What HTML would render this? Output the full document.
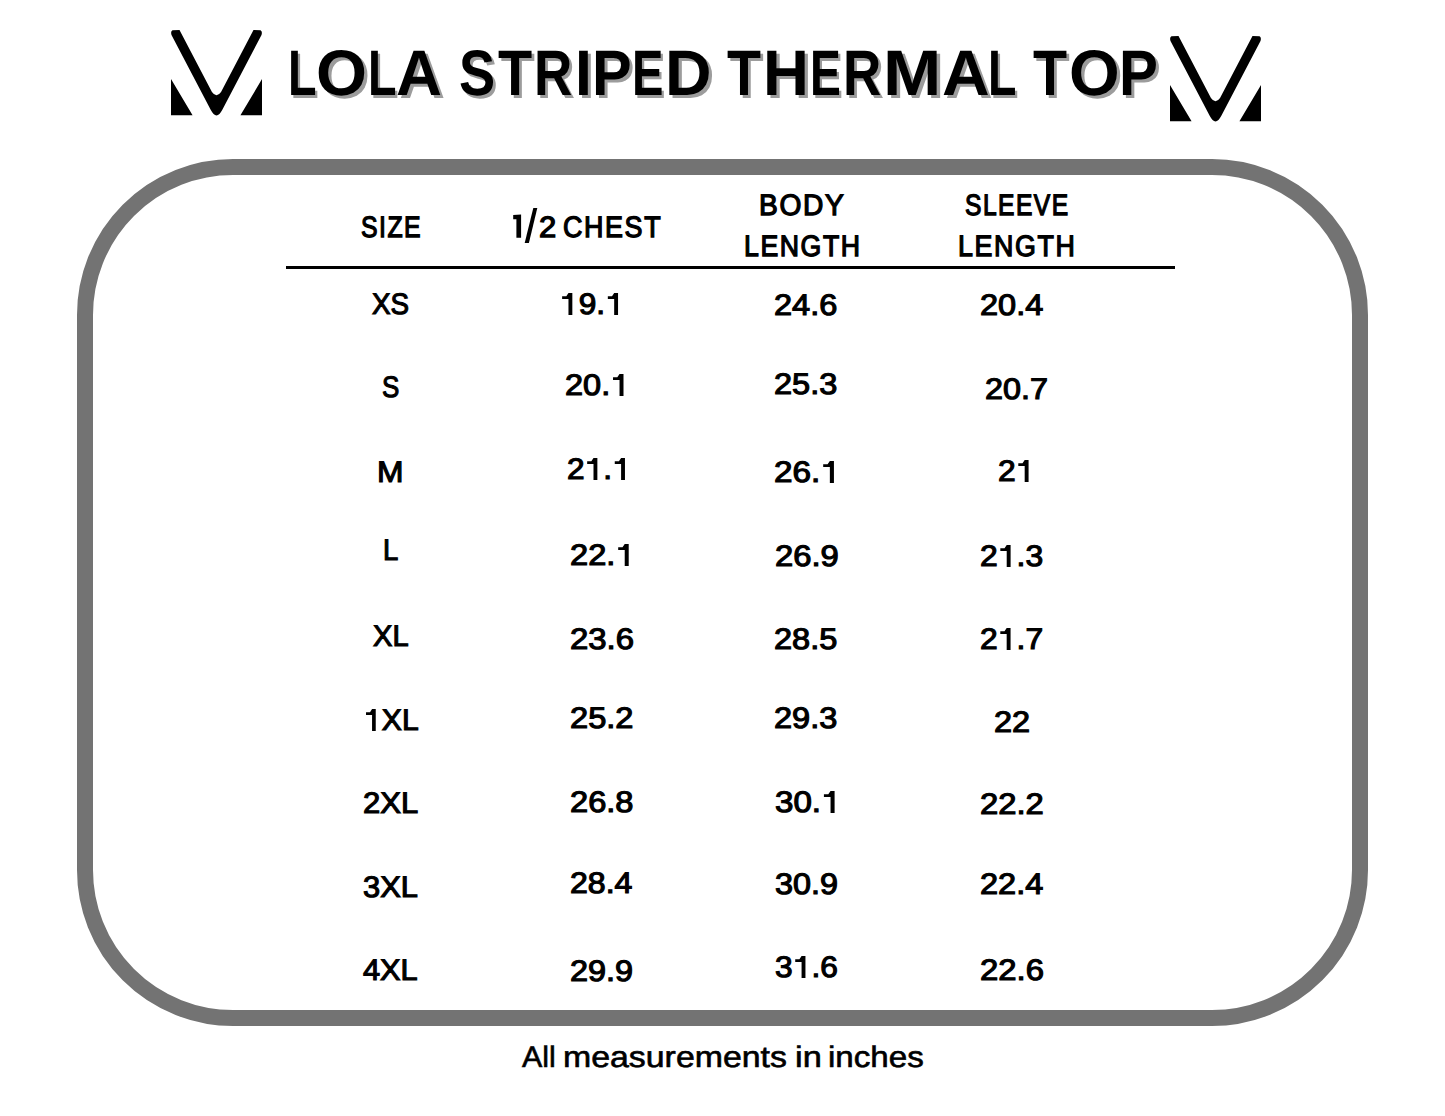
<!DOCTYPE html>
<html><head><meta charset="utf-8"><title>Lola Striped Thermal Top - Size Chart</title>
<style>
html,body{margin:0;padding:0;background:#fff;overflow:hidden;}
body{width:1445px;height:1116px;position:relative;overflow:hidden;font-family:"Liberation Sans",sans-serif;color:#000;text-rendering:geometricPrecision;}
.box{position:absolute;left:76.75px;top:158.9px;width:1291.1px;height:866.7px;box-sizing:border-box;border:16px solid #737373;border-radius:156px;}
.rule{position:absolute;left:286px;top:266px;width:889px;height:3px;background:#000;}
.h,.d,.ti,.f{position:absolute;white-space:nowrap;line-height:1;transform-origin:0 0;}
.h{font-weight:400;-webkit-text-stroke:0.0442em #000;letter-spacing:0.06em;}
.d{font-weight:400;-webkit-text-stroke:0.0386em #000;letter-spacing:0em;}
.ti{font-weight:700;text-shadow:3.2px 3px 0 #9c9c9c;}
.f{font-weight:400;-webkit-text-stroke:0.0203em #000;letter-spacing:0em;}
svg.logo{position:absolute;overflow:visible;}
</style></head>
<body>
<svg class="logo" style="left:171.1px;top:29.5px" width="91" height="86" viewBox="0 0 92 86" preserveAspectRatio="none">
<path d="M1.5,0.2 L8.6,0 L41.4,61.9 Q46,68.4 50.6,61.9 L83.4,0 L90.5,0.2 Q92.6,1.6 91.5,4.9 L51.9,79.8 Q46,91 40.1,79.8 L0.5,4.9 Q-0.6,1.6 1.5,0.2 Z" fill="#000"/>
<path d="M0,49.1 L0,85.3 L21.8,85.3 Z M92,49.1 L92,85.3 L70.2,85.3 Z" fill="#000"/>
</svg>
<svg class="logo" style="left:1169.8px;top:36px" width="91" height="86" viewBox="0 0 92 86" preserveAspectRatio="none">
<path d="M1.5,0.2 L8.6,0 L41.4,61.9 Q46,68.4 50.6,61.9 L83.4,0 L90.5,0.2 Q92.6,1.6 91.5,4.9 L51.9,79.8 Q46,91 40.1,79.8 L0.5,4.9 Q-0.6,1.6 1.5,0.2 Z" fill="#000"/>
<path d="M0,49.1 L0,85.3 L21.8,85.3 Z M92,49.1 L92,85.3 L70.2,85.3 Z" fill="#000"/>
</svg>
<div class="box"></div>
<div class="rule"></div>
<svg style="position:absolute;left:0;top:0;overflow:visible" width="1" height="1"><polygon points="533.3,208 537.3,208 528.9,243.1 524.7,243.1" fill="#000"/><polygon points="513.2,215 521.1,214.6 521.1,237.7 516.4,237.7 516.4,219.2 513.2,219.2" fill="#000"/></svg>
<div class="h" style="left:360.50px;top:212.79px;font-size:29.42px;transform:scaleX(0.8440)">SIZE</div>
<div class="h" style="left:538.87px;top:212.74px;font-size:29.42px;transform:scaleX(1.0537)">2</div>
<div class="h" style="left:563.49px;top:212.74px;font-size:29.42px;transform:scaleX(0.9140)">CHEST</div>
<div class="h" style="left:759.21px;top:191.24px;font-size:29.42px;transform:scaleX(0.9579)">BODY</div>
<div class="h" style="left:744.10px;top:232.14px;font-size:29.42px;transform:scaleX(0.9059)">LENGTH</div>
<div class="h" style="left:965.21px;top:191.39px;font-size:29.42px;transform:scaleX(0.8371)">SLEEVE</div>
<div class="h" style="left:958.29px;top:232.24px;font-size:29.42px;transform:scaleX(0.9115)">LENGTH</div>
<div class="d" style="left:372.38px;top:290.11px;font-size:29.78px;transform:scaleX(0.9335)">XS</div>
<div class="d" style="left:381.98px;top:373.11px;font-size:29.78px;transform:scaleX(0.8719)">S</div>
<div class="d" style="left:377.39px;top:458.41px;font-size:29.78px;transform:scaleX(1.0688)">M</div>
<div class="d" style="left:383.45px;top:536.36px;font-size:29.78px;transform:scaleX(0.9234)">L</div>
<div class="d" style="left:373.29px;top:622.41px;font-size:29.78px;transform:scaleX(0.9770)">XL</div>
<div class="d" style="left:363.69px;top:706.06px;font-size:29.78px;transform:scaleX(1.0112)"><svg class="one1" viewBox="0 0 9.5 21.5" preserveAspectRatio="none" style="display:inline-block;width:0.3229em;height:0.7403em;vertical-align:-0.0295em;margin:0 0.19em 0 0.08em;overflow:visible"><polygon points="0,3.2 3.9,3.2 5.9,0 9.5,0 9.5,21.5 5.9,21.5 5.9,5.8 0,5.8" fill="#000"/></svg>XL</div>
<div class="d" style="left:362.87px;top:789.46px;font-size:29.78px;transform:scaleX(1.0422)">2XL</div>
<div class="d" style="left:363.18px;top:872.56px;font-size:29.78px;transform:scaleX(1.0362)">3XL</div>
<div class="d" style="left:363.40px;top:955.91px;font-size:29.78px;transform:scaleX(1.0321)">4XL</div>
<div class="d" style="left:560.37px;top:290.21px;font-size:29.78px;transform:scaleX(1.0629)"><svg class="one1" viewBox="0 0 9.5 21.5" preserveAspectRatio="none" style="display:inline-block;width:0.3229em;height:0.7403em;vertical-align:-0.0295em;margin:0 0.19em 0 0.08em;overflow:visible"><polygon points="0,3.2 3.9,3.2 5.9,0 9.5,0 9.5,21.5 5.9,21.5 5.9,5.8 0,5.8" fill="#000"/></svg>9.<svg class="one1" viewBox="0 0 9.5 21.5" preserveAspectRatio="none" style="display:inline-block;width:0.3229em;height:0.7403em;vertical-align:-0.0295em;margin:0 0.19em 0 0.08em;overflow:visible"><polygon points="0,3.2 3.9,3.2 5.9,0 9.5,0 9.5,21.5 5.9,21.5 5.9,5.8 0,5.8" fill="#000"/></svg></div>
<div class="d" style="left:564.73px;top:370.91px;font-size:29.78px;transform:scaleX(1.0912)">20.<svg class="one1" viewBox="0 0 9.5 21.5" preserveAspectRatio="none" style="display:inline-block;width:0.3229em;height:0.7403em;vertical-align:-0.0295em;margin:0 0.19em 0 0.08em;overflow:visible"><polygon points="0,3.2 3.9,3.2 5.9,0 9.5,0 9.5,21.5 5.9,21.5 5.9,5.8 0,5.8" fill="#000"/></svg></div>
<div class="d" style="left:566.65px;top:455.41px;font-size:29.78px;transform:scaleX(1.0614)">2<svg class="one1" viewBox="0 0 9.5 21.5" preserveAspectRatio="none" style="display:inline-block;width:0.3229em;height:0.7403em;vertical-align:-0.0295em;margin:0 0.19em 0 0.08em;overflow:visible"><polygon points="0,3.2 3.9,3.2 5.9,0 9.5,0 9.5,21.5 5.9,21.5 5.9,5.8 0,5.8" fill="#000"/></svg>.<svg class="one1" viewBox="0 0 9.5 21.5" preserveAspectRatio="none" style="display:inline-block;width:0.3229em;height:0.7403em;vertical-align:-0.0295em;margin:0 0.19em 0 0.08em;overflow:visible"><polygon points="0,3.2 3.9,3.2 5.9,0 9.5,0 9.5,21.5 5.9,21.5 5.9,5.8 0,5.8" fill="#000"/></svg></div>
<div class="d" style="left:569.62px;top:540.86px;font-size:29.78px;transform:scaleX(1.0951)">22.<svg class="one1" viewBox="0 0 9.5 21.5" preserveAspectRatio="none" style="display:inline-block;width:0.3229em;height:0.7403em;vertical-align:-0.0295em;margin:0 0.19em 0 0.08em;overflow:visible"><polygon points="0,3.2 3.9,3.2 5.9,0 9.5,0 9.5,21.5 5.9,21.5 5.9,5.8 0,5.8" fill="#000"/></svg></div>
<div class="d" style="left:569.61px;top:625.21px;font-size:29.78px;transform:scaleX(1.1050)">23.6</div>
<div class="d" style="left:569.72px;top:704.46px;font-size:29.78px;transform:scaleX(1.0961)">25.2</div>
<div class="d" style="left:569.72px;top:787.91px;font-size:29.78px;transform:scaleX(1.0961)">26.8</div>
<div class="d" style="left:569.74px;top:868.61px;font-size:29.78px;transform:scaleX(1.0776)">28.4</div>
<div class="d" style="left:569.73px;top:956.61px;font-size:29.78px;transform:scaleX(1.0890)">29.9</div>
<div class="d" style="left:774.42px;top:290.91px;font-size:29.78px;transform:scaleX(1.0926)">24.6</div>
<div class="d" style="left:774.42px;top:370.41px;font-size:29.78px;transform:scaleX(1.0926)">25.3</div>
<div class="d" style="left:774.40px;top:457.81px;font-size:29.78px;transform:scaleX(1.1179)">26.<svg class="one1" viewBox="0 0 9.5 21.5" preserveAspectRatio="none" style="display:inline-block;width:0.3229em;height:0.7403em;vertical-align:-0.0295em;margin:0 0.19em 0 0.08em;overflow:visible"><polygon points="0,3.2 3.9,3.2 5.9,0 9.5,0 9.5,21.5 5.9,21.5 5.9,5.8 0,5.8" fill="#000"/></svg></div>
<div class="d" style="left:774.52px;top:541.96px;font-size:29.78px;transform:scaleX(1.1015)">26.9</div>
<div class="d" style="left:774.42px;top:624.81px;font-size:29.78px;transform:scaleX(1.0926)">28.5</div>
<div class="d" style="left:774.42px;top:704.46px;font-size:29.78px;transform:scaleX(1.0926)">29.3</div>
<div class="d" style="left:774.74px;top:788.31px;font-size:29.78px;transform:scaleX(1.1116)">30.<svg class="one1" viewBox="0 0 9.5 21.5" preserveAspectRatio="none" style="display:inline-block;width:0.3229em;height:0.7403em;vertical-align:-0.0295em;margin:0 0.19em 0 0.08em;overflow:visible"><polygon points="0,3.2 3.9,3.2 5.9,0 9.5,0 9.5,21.5 5.9,21.5 5.9,5.8 0,5.8" fill="#000"/></svg></div>
<div class="d" style="left:774.75px;top:870.41px;font-size:29.78px;transform:scaleX(1.0868)">30.9</div>
<div class="d" style="left:774.77px;top:953.21px;font-size:29.78px;transform:scaleX(1.0644)">3<svg class="one1" viewBox="0 0 9.5 21.5" preserveAspectRatio="none" style="display:inline-block;width:0.3229em;height:0.7403em;vertical-align:-0.0295em;margin:0 0.19em 0 0.08em;overflow:visible"><polygon points="0,3.2 3.9,3.2 5.9,0 9.5,0 9.5,21.5 5.9,21.5 5.9,5.8 0,5.8" fill="#000"/></svg>.6</div>
<div class="d" style="left:979.82px;top:290.91px;font-size:29.78px;transform:scaleX(1.0917)">20.4</div>
<div class="d" style="left:984.73px;top:374.71px;font-size:29.78px;transform:scaleX(1.0872)">20.7</div>
<div class="d" style="left:998.25px;top:456.81px;font-size:29.78px;transform:scaleX(1.0687)">2<svg class="one1" viewBox="0 0 9.5 21.5" preserveAspectRatio="none" style="display:inline-block;width:0.3229em;height:0.7403em;vertical-align:-0.0295em;margin:0 0.19em 0 0.08em;overflow:visible"><polygon points="0,3.2 3.9,3.2 5.9,0 9.5,0 9.5,21.5 5.9,21.5 5.9,5.8 0,5.8" fill="#000"/></svg></div>
<div class="d" style="left:979.84px;top:541.71px;font-size:29.78px;transform:scaleX(1.0699)">2<svg class="one1" viewBox="0 0 9.5 21.5" preserveAspectRatio="none" style="display:inline-block;width:0.3229em;height:0.7403em;vertical-align:-0.0295em;margin:0 0.19em 0 0.08em;overflow:visible"><polygon points="0,3.2 3.9,3.2 5.9,0 9.5,0 9.5,21.5 5.9,21.5 5.9,5.8 0,5.8" fill="#000"/></svg>.3</div>
<div class="d" style="left:979.85px;top:625.01px;font-size:29.78px;transform:scaleX(1.0685)">2<svg class="one1" viewBox="0 0 9.5 21.5" preserveAspectRatio="none" style="display:inline-block;width:0.3229em;height:0.7403em;vertical-align:-0.0295em;margin:0 0.19em 0 0.08em;overflow:visible"><polygon points="0,3.2 3.9,3.2 5.9,0 9.5,0 9.5,21.5 5.9,21.5 5.9,5.8 0,5.8" fill="#000"/></svg>.7</div>
<div class="d" style="left:994.03px;top:708.41px;font-size:29.78px;transform:scaleX(1.0904)">22</div>
<div class="d" style="left:980.02px;top:789.96px;font-size:29.78px;transform:scaleX(1.1015)">22.2</div>
<div class="d" style="left:979.82px;top:870.41px;font-size:29.78px;transform:scaleX(1.0917)">22.4</div>
<div class="d" style="left:979.81px;top:956.01px;font-size:29.78px;transform:scaleX(1.1032)">22.6</div>
<div class="ti" style="left:287.83px;top:41.15px;font-size:64.35px;transform:scaleX(0.7252)">L</div>
<div class="ti" style="left:316.18px;top:41.15px;font-size:64.35px;transform:scaleX(1.0190)">O</div>
<div class="ti" style="left:367.53px;top:41.15px;font-size:64.35px;transform:scaleX(0.7252)">L</div>
<div class="ti" style="left:396.09px;top:41.15px;font-size:64.35px;transform:scaleX(0.9889)">A</div>
<div class="ti" style="left:458.68px;top:41.15px;font-size:64.35px;transform:scaleX(0.8418)">S</div>
<div class="ti" style="left:497.54px;top:41.15px;font-size:64.35px;transform:scaleX(0.8692)">T</div>
<div class="ti" style="left:533.69px;top:41.15px;font-size:64.35px;transform:scaleX(0.8239)">R</div>
<div class="ti" style="left:574.55px;top:41.15px;font-size:64.35px;transform:scaleX(0.9435)">I</div>
<div class="ti" style="left:591.94px;top:41.15px;font-size:64.35px;transform:scaleX(0.9241)">P</div>
<div class="ti" style="left:631.70px;top:41.15px;font-size:64.35px;transform:scaleX(0.7326)">E</div>
<div class="ti" style="left:664.69px;top:41.15px;font-size:64.35px;transform:scaleX(1.0012)">D</div>
<div class="ti" style="left:727.44px;top:41.15px;font-size:64.35px;transform:scaleX(0.8639)">T</div>
<div class="ti" style="left:763.05px;top:41.15px;font-size:64.35px;transform:scaleX(0.9887)">H</div>
<div class="ti" style="left:810.06px;top:41.15px;font-size:64.35px;transform:scaleX(0.7188)">E</div>
<div class="ti" style="left:843.49px;top:41.15px;font-size:64.35px;transform:scaleX(0.8239)">R</div>
<div class="ti" style="left:883.40px;top:41.15px;font-size:64.35px;transform:scaleX(1.0878)">M</div>
<div class="ti" style="left:941.52px;top:41.15px;font-size:64.35px;transform:scaleX(1.0266)">A</div>
<div class="ti" style="left:988.15px;top:41.15px;font-size:64.35px;transform:scaleX(0.7222)">L</div>
<div class="ti" style="left:1033.34px;top:41.15px;font-size:64.35px;transform:scaleX(0.8666)">T</div>
<div class="ti" style="left:1068.69px;top:41.15px;font-size:64.35px;transform:scaleX(1.0124)">O</div>
<div class="ti" style="left:1119.41px;top:41.15px;font-size:64.35px;transform:scaleX(0.9075)">P</div>
<div class="f" style="left:521.80px;top:1043.45px;font-size:29.58px;transform:scaleX(1.0267)">All</div>
<div class="f" style="left:563.07px;top:1043.45px;font-size:29.58px;transform:scaleX(1.1445)">measurements</div>
<div class="f" style="left:794.64px;top:1043.45px;font-size:29.58px;transform:scaleX(1.1626)">in</div>
<div class="f" style="left:828.31px;top:1043.45px;font-size:29.58px;transform:scaleX(1.1203)">inches</div>
</body></html>
